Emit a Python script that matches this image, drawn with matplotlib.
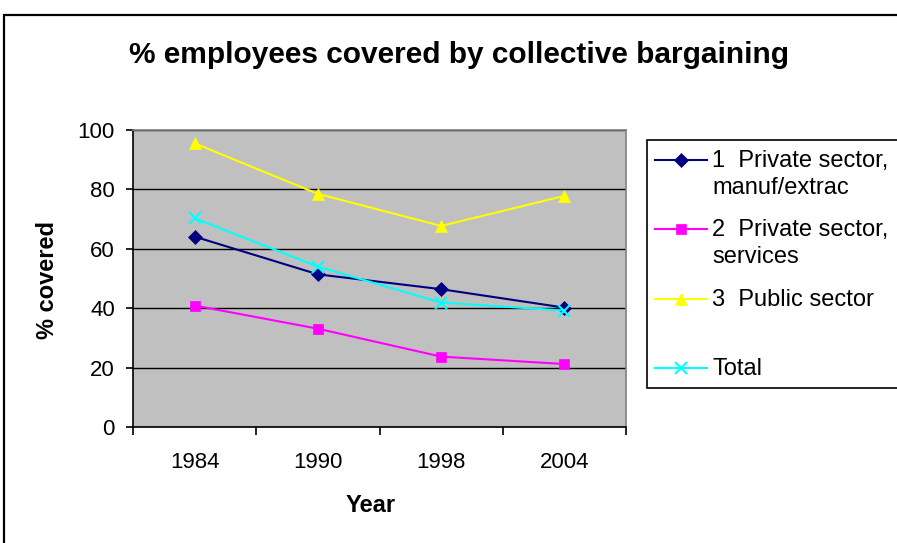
import matplotlib
matplotlib.use("Agg")
import matplotlib.pyplot as plt
from matplotlib.lines import Line2D
from matplotlib.patches import Rectangle

plt.rcParams['font.family'] = ['Liberation Sans', 'DejaVu Sans']

years = ['1984', '1990', '1998', '2004']
manuf = [64.1, 51.4, 46.4, 40.2]
services = [40.9, 33.1, 23.7, 21.2]
public = [95.5, 78.5, 67.7, 77.8]
total = [70.3, 54.0, 41.9, 39.2]

series_names = ['1  Private sector,\nmanuf/extrac', '2  Private sector,\nservices',
                '3  Public sector', 'Total']
series_vals = [manuf, services, public, total]
colors = ['#000080', '#FF00FF', '#FFFF00', '#00FFFF']
markers = ['D', 's', '^', 'x']
msizes = [7.5, 7.5, 9, 9]

W, H = 897, 543
fig = plt.figure(figsize=(W / 100, H / 100), dpi=100)

def fx(px):
    return px / W

def fy(py):
    return 1 - py / H

# outer chart frame (cropped right/bottom)
fig.patches.append(Rectangle((fx(4), fy(560)), fx(905) - fx(4), fy(15) - fy(560),
                             transform=fig.transFigure, fill=False, ec='black', lw=1.6))

ax = fig.add_axes([fx(133), fy(427), fx(626) - fx(133), fy(130) - fy(427)])
ax.set_facecolor('#C0C0C0')
x = list(range(len(years)))
for vals, c, m, ms in zip(series_vals, colors, markers, msizes):
    ax.plot(x, vals, color=c, lw=1.5, marker=m, markersize=ms,
            markeredgewidth=1.5 if m == 'x' else 0.5, markeredgecolor=c, markerfacecolor=c,
            zorder=3)

ax.set_xlim(-0.5, 3.5)
ax.set_ylim(0, 100)
ax.set_yticks(range(0, 101, 20))
ax.yaxis.grid(True, color='black', lw=1)
ax.set_axisbelow(True)
ax.set_xticks([-0.5, 0.5, 1.5, 2.5, 3.5])
ax.set_xticklabels([])
ax.set_xticks(x, minor=True)
ax.set_xticklabels(years, minor=True)
ax.tick_params(axis='x', which='minor', length=0, pad=18, labelsize=16)
ax.tick_params(axis='x', which='major', length=6, width=1.2, direction='out')
ax.tick_params(axis='y', length=5, width=1.2, direction='out', labelsize=16, pad=8)
for side in ['top', 'right']:
    ax.spines[side].set_color('#808080')
    ax.spines[side].set_linewidth(1.2)
for side in ['left', 'bottom']:
    ax.spines[side].set_color('black')
    ax.spines[side].set_linewidth(1.2)

fig.text(fx(459), fy(55), '% employees covered by collective bargaining',
         ha='center', va='center', fontsize=21.5, fontweight='bold')
fig.text(fx(371), fy(506), 'Year', ha='center', va='center', fontsize=17, fontweight='bold')
fig.text(fx(48), fy(280), '% covered', ha='center', va='center', rotation=90,
         fontsize=17, fontweight='bold')

# legend box
fig.patches.append(Rectangle((fx(647), fy(388)), fx(910) - fx(647), fy(140) - fy(388),
                             transform=fig.transFigure, fill=True, fc='white', ec='black', lw=1.2))
for i, (name, c, m, ms) in enumerate(zip(series_names, colors, markers, msizes)):
    yy = 160 + 69.3 * i
    fig.lines.append(Line2D([fx(655), fx(707)], [fy(yy), fy(yy)], transform=fig.transFigure,
                            color=c, lw=1.5))
    fig.lines.append(Line2D([fx(681)], [fy(yy)], transform=fig.transFigure, color=c,
                            marker=m, markersize=ms, markerfacecolor=c, markeredgecolor=c,
                            markeredgewidth=1.5 if m == 'x' else 0.5, lw=0))
    fig.text(fx(712), fy(yy - 10), name, ha='left', va='top', fontsize=17,
             linespacing=1.3)

fig.savefig('out.png', dpi=100)
